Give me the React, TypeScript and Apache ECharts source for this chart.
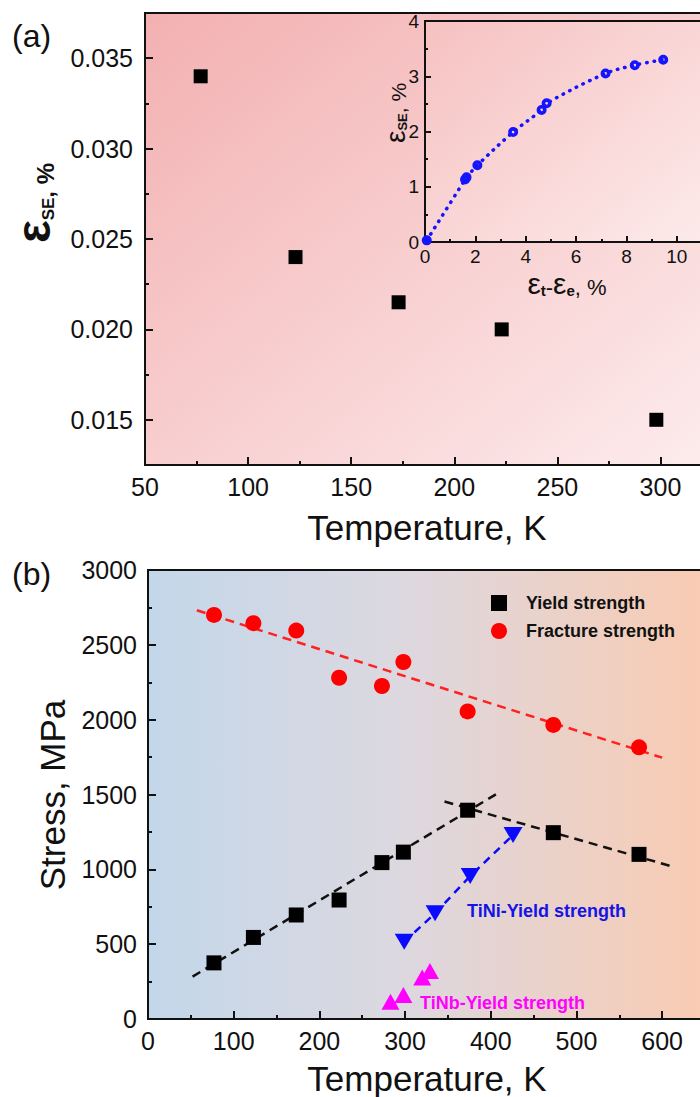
import React, { useEffect, useRef } from 'react';
import * as echarts from 'echarts';

const FONT = '"Liberation Sans", Arial, Helvetica, sans-serif';

// ---------- Panel (a): superelastic strain vs temperature ----------
const tempA = [77, 123, 173, 223, 298];
const strainSE = [0.034, 0.024, 0.0215, 0.02, 0.015];
const yTicksA = [0.015, 0.02, 0.025, 0.03, 0.035];

// ---------- Inset: eps_SE vs eps_t - eps_e ----------
const insetX = [0.07, 1.59, 1.65, 2.08, 3.5, 4.63, 4.83, 7.17, 8.33, 9.46];
const insetY = [0.03, 1.13, 1.17, 1.39, 1.99, 2.39, 2.51, 3.05, 3.2, 3.3];

// ---------- Panel (b): stress vs temperature ----------
const tempB = [77, 123, 173, 223, 273, 298, 373, 473, 573];
const yieldStrength = [375, 545, 695, 795, 1045, 1115, 1395, 1245, 1100];
const fractureStrength = [2700, 2645, 2595, 2280, 2225, 2385, 2055, 1965, 1815];
const tiniTemp = [299, 335, 376, 426];
const tiniYield = [516, 706, 955, 1229];
const tinbTemp = [283, 298, 320, 329];
const tinbYield = [115, 160, 277, 320];
const yieldFitLowT = [52, 406];
const yieldFitLowS = [283, 1501];
const yieldFitHighT = [346, 615];
const yieldFitHighS = [1453, 1014];
const fractureFitT = [57, 600];
const fractureFitS = [2731, 1746];

const zip = (a: number[], b: number[]) => a.map((v, i) => [v, b[i]]);

const AX = '#111';
const tickFont = { fontSize: 25, color: AX, fontFamily: FONT };
// ring symbol: filled disc with a small hole in the centre
const RING = 'path://M0,-5A5,5 0 1,1 0,5A5,5 0 1,1 0,-5ZM0,-1.4A1.4,1.4 0 1,0 0,1.4A1.4,1.4 0 1,0 0,-1.4Z';

function buildOption(): any {
  const axisLine = { show: true, onZero: false, lineStyle: { color: AX, width: 2 } };
  const majorTick = (len: number) => ({ show: true, inside: true, length: len, lineStyle: { color: AX, width: 2 } });
  const minorTick = (len: number) => ({ show: true, splitNumber: 2, length: len, lineStyle: { color: AX, width: 2 } });
  const ctext = (x: number, y: number, text: string, fontSize: number, extra: any = {}) => ({
    type: 'text', x, y, ...extra,
    style: { text, fontSize, fontFamily: FONT, fill: AX, align: 'center', verticalAlign: 'middle', textAlign: 'center', textVerticalAlign: 'middle', ...(extra.style || {}) },
  });

  return {
    animation: false,
    backgroundColor: '#ffffff',
    grid: [
      {
        left: 145, top: 13, width: 567, height: 452, show: true, borderColor: AX, borderWidth: 2,
        backgroundColor: new echarts.graphic.LinearGradient(0, 0, 1, 1, [
          { offset: 0, color: '#f3b0b1' },
          { offset: 1, color: '#fdeced' },
        ]),
      },
      {
        left: 148, top: 570, width: 557, height: 449, show: true, borderColor: AX, borderWidth: 2,
        backgroundColor: new echarts.graphic.LinearGradient(0, 0, 1, 0, [
          { offset: 0, color: '#c3d7ea' },
          { offset: 0.45, color: '#dcd8e0' },
          { offset: 1, color: '#f9cbb2' },
        ]),
      },
      {
        left: 425, top: 21, width: 277, height: 221, show: true, borderColor: AX, borderWidth: 2,
        backgroundColor: new echarts.graphic.LinearGradient(0, 0, 1, 1, [
          { offset: 0, color: '#f6c1c1' },
          { offset: 1, color: '#fdeaea' },
        ]),
      },
    ],
    xAxis: [
      {
        type: 'value', gridIndex: 0, min: 50, max: 325, interval: 50,
        axisLine, axisTick: majorTick(8), minorTick: minorTick(4), splitLine: { show: false },
        axisLabel: { ...tickFont, margin: 9, formatter: (v: number) => (v % 50 === 0 ? String(v) : '') },
      },
      {
        type: 'value', gridIndex: 1, min: 0, max: 650, interval: 100,
        axisLine, axisTick: majorTick(8), minorTick: minorTick(4), splitLine: { show: false },
        axisLabel: { ...tickFont, margin: 9, formatter: (v: number) => (v % 100 === 0 ? String(v) : '') },
      },
      {
        type: 'value', gridIndex: 2, min: 0, max: 11, interval: 2,
        axisLine, axisTick: majorTick(6), minorTick: minorTick(3), splitLine: { show: false },
        axisLabel: { fontSize: 19, color: AX, fontFamily: FONT, margin: 5, formatter: (v: number) => (v % 2 === 0 ? String(v) : '') },
      },
    ],
    yAxis: [
      {
        type: 'value', gridIndex: 0, min: 0.0125, max: 0.0375,
        axisLine, splitLine: { show: false },
        axisTick: { ...majorTick(8), customValues: yTicksA },
        axisLabel: { ...tickFont, margin: 12, customValues: yTicksA, formatter: (v: number) => v.toFixed(3) },
      },
      {
        type: 'value', gridIndex: 0, min: 0.0125, max: 0.0375, interval: 0.0025, position: 'left',
        axisLine: { show: false }, splitLine: { show: false },
        axisTick: majorTick(4), axisLabel: { show: false },
      },
      {
        type: 'value', gridIndex: 1, min: 0, max: 3000, interval: 500,
        axisLine, axisTick: majorTick(8), minorTick: minorTick(4), splitLine: { show: false },
        axisLabel: { ...tickFont, margin: 11, formatter: (v: number) => String(v) },
      },
      {
        type: 'value', gridIndex: 2, min: 0, max: 4, interval: 1,
        axisLine, axisTick: majorTick(6), minorTick: minorTick(3), splitLine: { show: false },
        axisLabel: { fontSize: 19, color: AX, fontFamily: FONT, margin: 6, formatter: (v: number) => String(v) },
      },
    ],
    legend: {
      orient: 'vertical', left: 486, top: 589, itemWidth: 16, itemHeight: 16, itemGap: 10,
      data: [
        { name: 'Yield strength', icon: 'rect' },
        { name: 'Fracture strength', icon: 'circle' },
      ],
      textStyle: { fontSize: 18, fontWeight: 'bold', color: AX, fontFamily: FONT, padding: [0, 0, 0, 14] },
    },
    series: [
      {
        type: 'scatter', name: 'εSE', xAxisIndex: 0, yAxisIndex: 0, symbol: 'rect', symbolSize: 14,
        itemStyle: { color: '#000', opacity: 1 }, data: zip(tempA, strainSE),
      },
      {
        type: 'line', name: 'inset', xAxisIndex: 2, yAxisIndex: 3, smooth: 0.35,
        symbol: RING, symbolSize: 10, symbolKeepAspect: true, showAllSymbol: true,
        itemStyle: { color: '#1414ff', borderWidth: 0, opacity: 1 },
        emphasis: { disabled: true },
        lineStyle: { color: '#1414ff', width: 3.5, type: [0.5, 7], cap: 'round' },
        data: zip(insetX, insetY),
      },
      {
        type: 'line', name: 'fitYieldLow', xAxisIndex: 1, yAxisIndex: 2, symbol: 'none', silent: true,
        lineStyle: { color: '#111', width: 2.5, type: [9, 6] }, data: zip(yieldFitLowT, yieldFitLowS),
      },
      {
        type: 'line', name: 'fitYieldHigh', xAxisIndex: 1, yAxisIndex: 2, symbol: 'none', silent: true,
        lineStyle: { color: '#111', width: 2.5, type: [9, 6] }, data: zip(yieldFitHighT, yieldFitHighS),
      },
      {
        type: 'line', name: 'fitFracture', xAxisIndex: 1, yAxisIndex: 2, symbol: 'none', silent: true,
        lineStyle: { color: '#ff2020', width: 2.5, type: [9, 6] }, data: zip(fractureFitT, fractureFitS),
      },
      {
        type: 'scatter', name: 'Yield strength', xAxisIndex: 1, yAxisIndex: 2, symbol: 'rect', symbolSize: 15,
        itemStyle: { color: '#000', opacity: 1 }, data: zip(tempB, yieldStrength), z: 4,
      },
      {
        type: 'scatter', name: 'Fracture strength', xAxisIndex: 1, yAxisIndex: 2, symbol: 'circle', symbolSize: 16,
        itemStyle: { color: '#ff0000', opacity: 1 }, data: zip(tempB, fractureStrength), z: 4,
      },
      {
        type: 'line', name: 'TiNi-Yield strength', xAxisIndex: 1, yAxisIndex: 2,
        symbol: 'triangle', symbolRotate: 180, symbolSize: [19, 16],
        itemStyle: { color: '#0a0aff', opacity: 1 },
        lineStyle: { color: '#0a0aff', width: 2.5, type: [8, 6] },
        data: zip(tiniTemp, tiniYield), z: 4,
      },
      {
        type: 'scatter', name: 'TiNb-Yield strength', xAxisIndex: 1, yAxisIndex: 2,
        symbol: 'triangle', symbolSize: [18, 16],
        itemStyle: { color: '#ff00ff', opacity: 1 }, data: zip(tinbTemp, tinbYield), z: 4,
      },
    ],
    graphic: [
      { type: 'text', x: 12, y: 36, style: { text: '(a)', fontSize: 32, fontFamily: FONT, fill: AX, align: 'left', verticalAlign: 'middle', textAlign: 'left', textVerticalAlign: 'middle' } },
      { type: 'text', x: 12, y: 574, style: { text: '(b)', fontSize: 32, fontFamily: FONT, fill: AX, align: 'left', verticalAlign: 'middle', textAlign: 'left', textVerticalAlign: 'middle' } },
      ctext(427, 527, 'Temperature, K', 35),
      ctext(427, 1078, 'Temperature, K', 35),
      ctext(52, 795, 'Stress, MPa', 35, { rotation: Math.PI / 2 }),
      {
        type: 'text', x: 33, y: 203, rotation: Math.PI / 2,
        style: {
          text: '{e|ε}{s|SE}{p|, %}', fill: AX, align: 'center', verticalAlign: 'middle', textAlign: 'center', textVerticalAlign: 'middle',
          rich: {
            e: { fontSize: 48, fontWeight: 'bold', fontFamily: FONT, fill: AX, verticalAlign: 'bottom' },
            s: { fontSize: 17, fontWeight: 'bold', fontFamily: FONT, fill: AX, verticalAlign: 'bottom' },
            p: { fontSize: 24, fontWeight: 'bold', fontFamily: FONT, fill: AX, verticalAlign: 'bottom' },
          },
        },
      },
      {
        type: 'text', x: 395, y: 113, rotation: Math.PI / 2,
        style: {
          text: '{e|ε}{s|SE}{p|, %}', fill: AX, align: 'center', verticalAlign: 'middle', textAlign: 'center', textVerticalAlign: 'middle',
          rich: {
            e: { fontSize: 28, fontFamily: FONT, fill: AX, verticalAlign: 'bottom' },
            s: { fontSize: 13, fontWeight: 'bold', fontFamily: FONT, fill: AX, verticalAlign: 'bottom' },
            p: { fontSize: 21, fontFamily: FONT, fill: AX, verticalAlign: 'bottom' },
          },
        },
      },
      {
        type: 'text', x: 567, y: 283,
        style: {
          text: '{e|ε}{s|t}{p|-}{e|ε}{s|e}{p|, %}', fill: AX, align: 'center', verticalAlign: 'middle', textAlign: 'center', textVerticalAlign: 'middle',
          rich: {
            e: { fontSize: 30, fontFamily: FONT, fill: AX, verticalAlign: 'bottom' },
            s: { fontSize: 15, fontWeight: 'bold', fontFamily: FONT, fill: AX, verticalAlign: 'bottom' },
            p: { fontSize: 22, fontFamily: FONT, fill: AX, verticalAlign: 'bottom' },
          },
        },
      },
      { type: 'text', x: 467, y: 911, style: { text: 'TiNi-Yield strength', fontSize: 18, fontWeight: 'bold', fontFamily: FONT, fill: '#1414e6', align: 'left', verticalAlign: 'middle', textAlign: 'left', textVerticalAlign: 'middle' } },
      { type: 'text', x: 420, y: 1003, style: { text: 'TiNb-Yield strength', fontSize: 18, fontWeight: 'bold', fontFamily: FONT, fill: '#ff00ff', align: 'left', verticalAlign: 'middle', textAlign: 'left', textVerticalAlign: 'middle' } },
    ],
  };
}

export default function App() {
  const ref = useRef<HTMLDivElement>(null);
  useEffect(() => {
    document.body.style.margin = '0';
    const chart = echarts.init(ref.current!, null, { renderer: 'svg' });
    chart.setOption(buildOption());
    return () => chart.dispose();
  }, []);
  return (
    <div style={{ width: 700, height: 1097, overflow: 'hidden', position: 'relative', background: '#fff' }}>
      <div ref={ref} style={{ width: 760, height: 1097 }} />
    </div>
  );
}
